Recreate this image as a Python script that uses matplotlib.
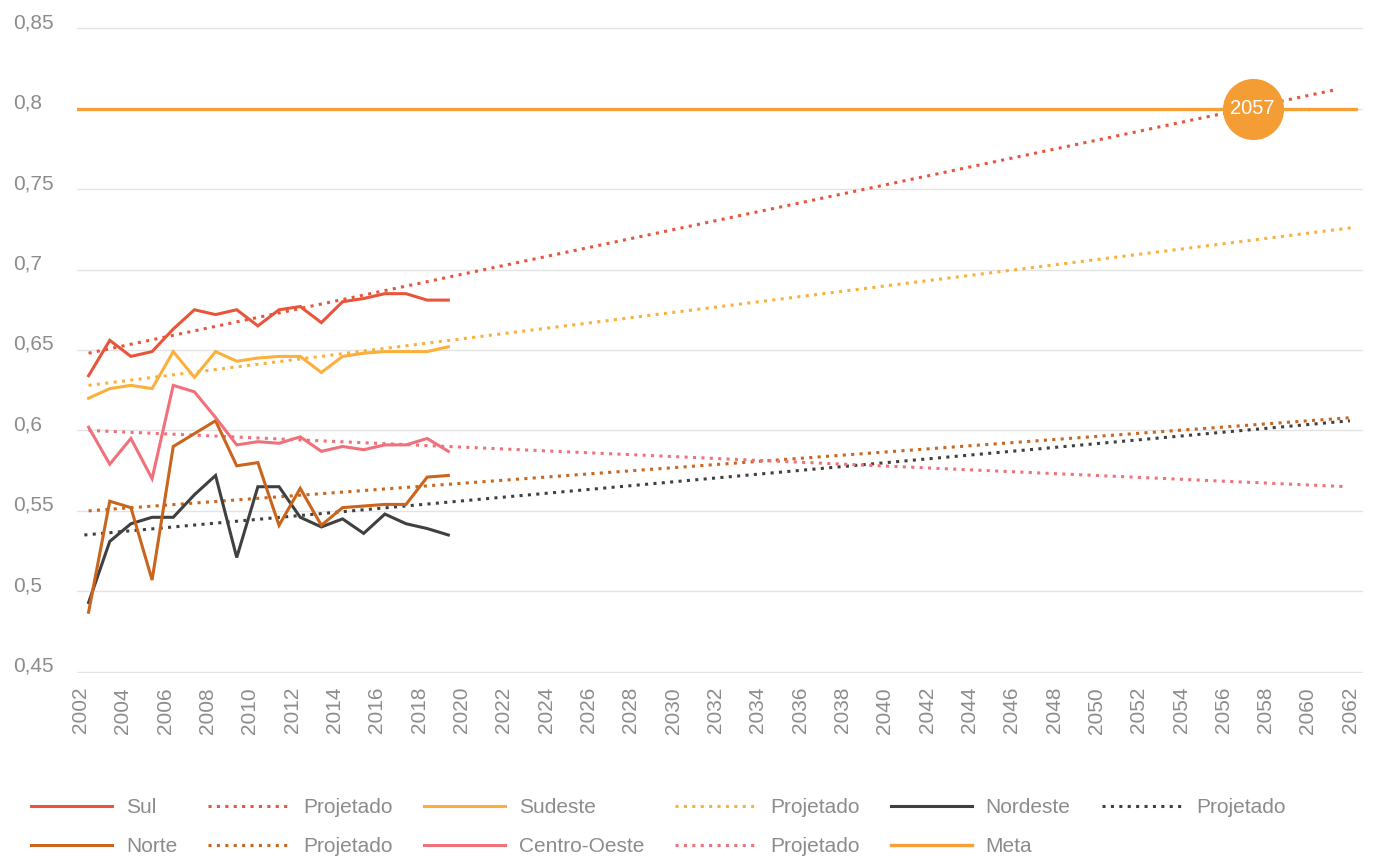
import numpy as np
import matplotlib.pyplot as plt

plt.rcParams['font.family'] = ['Liberation Sans', 'DejaVu Sans']

# Índice por região, série anual
anos = np.arange(2002, 2020)
sul = [0.634, 0.656, 0.646, 0.649, 0.663, 0.675, 0.672, 0.675, 0.665, 0.675,
       0.677, 0.667, 0.680, 0.682, 0.685, 0.685, 0.681, 0.681]
sudeste = [0.620, 0.626, 0.628, 0.626, 0.649, 0.633, 0.649, 0.643, 0.645, 0.646,
           0.646, 0.636, 0.646, 0.648, 0.649, 0.649, 0.649, 0.652]
nordeste = [0.493, 0.531, 0.542, 0.546, 0.546, 0.560, 0.572, 0.521, 0.565, 0.565,
            0.546, 0.540, 0.545, 0.536, 0.548, 0.542, 0.539, 0.535]
norte = [0.487, 0.556, 0.552, 0.507, 0.590, 0.598, 0.606, 0.578, 0.580, 0.541,
         0.564, 0.541, 0.552, 0.553, 0.554, 0.554, 0.571, 0.572]
centro_oeste = [0.602, 0.579, 0.595, 0.570, 0.628, 0.624, 0.608, 0.591, 0.593, 0.592,
                0.596, 0.587, 0.590, 0.588, 0.591, 0.591, 0.595, 0.587]

# Projeções lineares: (ano inicial, valor inicial, ano final, valor final)
proj_sul = (2002.0, 0.648, 2061.0, 0.812)
proj_sudeste = (2002.0, 0.628, 2061.7, 0.726)
proj_nordeste = (2001.8, 0.535, 2061.6, 0.606)
proj_norte = (2002.0, 0.550, 2061.7, 0.608)
proj_centro_oeste = (2002.0, 0.600, 2061.5, 0.565)

meta = 0.80
meta_anos = (2001.4, 2061.9)
ano_meta = 2057

cores = {
    'Sul': '#E8553A',
    'Sudeste': '#FBB03B',
    'Nordeste': '#404040',
    'Norte': '#C9651C',
    'Centro-Oeste': '#F0717A',
    'Meta': '#F7A035',
}

desloc = 0.38  # pontos ficam no meio do ano

fig = plt.figure(figsize=(13.74, 8.58), dpi=100)
# eixo levemente maior que 0,45-0,85 para não cortar as linhas de grade das bordas
ax = fig.add_axes([0.056, 0.2156, 0.936, 0.7530])

lw = 2.2
dots = (0, (1, 1.75))

series = [
    ('Sul', sul, proj_sul),
    ('Sudeste', sudeste, proj_sudeste),
    ('Nordeste', nordeste, proj_nordeste),
    ('Norte', norte, proj_norte),
    ('Centro-Oeste', centro_oeste, proj_centro_oeste),
]
linhas = {}
for nome, valores, proj in series:
    c = cores[nome]
    x0, y0, x1, y1 = proj
    pl, = ax.plot([x0 + desloc, x1 + desloc], [y0, y1], color=c, lw=lw,
                  linestyle=dots, zorder=3)
    dl, = ax.plot(anos + desloc, valores, color=c, lw=lw, zorder=4,
                  solid_joinstyle='miter')
    linhas[nome] = (dl, pl)

ml, = ax.plot([meta_anos[0] + desloc, meta_anos[1] + desloc], [meta, meta],
              color=cores['Meta'], lw=2.4, zorder=5)

# marcador do ano em que a projeção do Sul atinge a meta
ax.plot(ano_meta + desloc, meta, 'o', ms=44, color='#F59D35', mec='none', zorder=6)
ax.text(ano_meta + desloc, meta, str(ano_meta), color='white', fontsize=14.5,
        ha='center', va='center', zorder=7)

ax.set_xlim(2001.83, 2062.6)
ax.set_ylim(0.4492, 0.8508)
ax.set_xticks(np.arange(2002, 2063, 2))
ax.set_yticks(np.arange(0.45, 0.851, 0.05))
ax.set_yticklabels([f'{v:.2f}'.rstrip('0').replace('.', ',') for v in ax.get_yticks()])
ax.tick_params(axis='x', labelrotation=90, length=0, pad=10, labelsize=15,
               labelcolor='#8C8C8C')
ax.tick_params(axis='y', length=0, pad=46, labelsize=15, labelcolor='#8C8C8C')
for t in ax.get_yticklabels():
    t.set_horizontalalignment('left')
    t.set_verticalalignment('baseline')
ax.grid(axis='y', color='#E3E3E3', lw=1)
ax.set_axisbelow(True)
for s in ax.spines.values():
    s.set_visible(False)

# legenda em 6 colunas (ordem por coluna)
handles = [linhas['Sul'][0], linhas['Norte'][0],
           linhas['Sul'][1], linhas['Norte'][1],
           linhas['Sudeste'][0], linhas['Centro-Oeste'][0],
           linhas['Sudeste'][1], linhas['Centro-Oeste'][1],
           linhas['Nordeste'][0], ml,
           linhas['Nordeste'][1]]
labels = ['Sul', 'Norte', 'Projetado', 'Projetado', 'Sudeste', 'Centro-Oeste',
          'Projetado', 'Projetado', 'Nordeste', 'Meta', 'Projetado']
leg = fig.legend(handles, labels, ncol=6, loc='upper left',
                 bbox_to_anchor=(31 / 1374, 1 - 798 / 858), frameon=False,
                 fontsize=15, handlelength=3.9, handletextpad=0.65,
                 columnspacing=1.5, labelspacing=0.95, borderpad=0,
                 borderaxespad=0)
for t in leg.get_texts():
    t.set_color('#8C8C8C')

fig.savefig('out.png', dpi=100)
